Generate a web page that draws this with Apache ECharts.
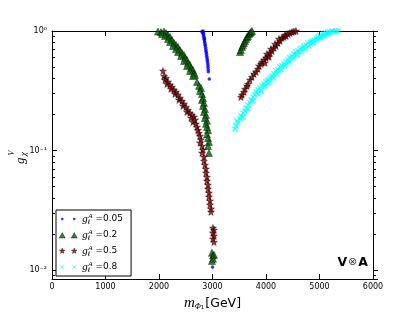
<!DOCTYPE html>
<html><head><meta charset="utf-8">
<script src="https://cdn.jsdelivr.net/npm/echarts@6/dist/echarts.min.js"></script>
<style>html,body{margin:0;padding:0;background:#fff}#c{width:415px;height:312px}</style>
</head><body><div id="c"></div>
<script>
// ---- axis settings ----
const xMin = 0, xMax = 6000, xInterval = 1000;
const yMin = 0.0084, yMax = 1;
const seriesNames = ['0.05', '0.2', '0.5', '0.8'];

// ---- data [m_Phi1 (GeV), g_chi^V] ----
const blueData = [[2804,0.99],[2822,1.0],[2813,0.975],[2822,0.955],[2832,0.96],[2832,0.93],[2836,0.905],[2841,0.88],[2850,0.86],
  [2846,0.855],[2850,0.83],[2855,0.805],[2860,0.78],[2864,0.755],[2869,0.73],[2874,0.705],[2878,0.68],[2883,0.66],
  [2888,0.64],[2892,0.615],[2897,0.595],[2902,0.575],[2906,0.555],[2911,0.535],[2916,0.515],[2916,0.495],[2920,0.475],
  [2922,0.455],[2940,0.397],[3000,0.0106]];

const greenData = [[1981,0.99],[2037,0.98],[2093,0.99],[2131,0.96],[2056,0.944],[2168,0.926],[2112,0.908],[2206,0.891],
  [2168,0.857],[2243,0.841],[2206,0.809],[2280,0.793],[2318,0.764],[2262,0.749],[2355,0.735],[2318,0.707],[2392,0.693],
  [2355,0.667],[2430,0.655],[2467,0.630],[2411,0.618],[2486,0.595],[2523,0.572],[2467,0.561],[2542,0.540],[2579,0.520],
  [2523,0.510],[2598,0.490],[2635,0.472],[2579,0.463],[2654,0.445],[2673,0.428],[2635,0.420],[2710,0.375],[2748,0.347],
  [2785,0.334],[2766,0.315],[2804,0.297],[2822,0.275],[2804,0.265],[2841,0.250],[2822,0.236],[2860,0.222],[2841,0.210],
  [2878,0.198],[2860,0.187],[2897,0.177],[2878,0.167],[2897,0.157],[2916,0.148],[2897,0.137],[2916,0.127],[2934,0.118],
  [2916,0.109],[2934,0.0954],
  [2990,0.0139],[3009,0.0132],[3009,0.0124],[2990,0.0119],[3028,0.0134],
  [3514,0.667],[3532,0.693],[3551,0.735],[3570,0.764],[3589,0.793],[3607,0.825],[3626,0.857],[3645,0.891],[3663,0.908],
  [3682,0.944],[3701,0.962],[3720,0.981],[3738,1.0]];

const redData = [[2075,0.463],[2093,0.420],[2131,0.404],[2112,0.389],[2168,0.375],[2149,0.360],[2206,0.354],[2243,0.340],
  [2224,0.327],[2280,0.321],[2318,0.309],[2299,0.297],[2355,0.292],[2392,0.275],[2374,0.265],[2430,0.260],[2467,0.245],
  [2449,0.236],[2505,0.231],[2542,0.218],[2523,0.210],[2579,0.206],[2617,0.198],[2598,0.187],[2654,0.191],[2673,0.180],
  [2635,0.173],[2691,0.167],[2710,0.157],[2729,0.148],[2748,0.140],[2766,0.132],[2785,0.123],[2766,0.116],[2804,0.109],
  [2822,0.101],[2804,0.0954],[2841,0.0882],[2841,0.0816],[2860,0.0756],[2878,0.0700],[2878,0.0648],[2897,0.0600],
  [2897,0.0556],[2916,0.0515],[2916,0.0477],[2934,0.0442],[2934,0.0409],[2953,0.0379],[2953,0.0351],[2972,0.0325],
  [2972,0.0306],
  [3009,0.0225],[3028,0.0216],[3009,0.0204],[3028,0.0193],[3009,0.0182],[3028,0.0171],
  [3532,0.280],[3551,0.292],[3589,0.309],[3607,0.327],[3645,0.347],[3663,0.360],[3701,0.389],[3738,0.412],[3776,0.437],
  [3813,0.454],[3850,0.481],[3869,0.510],[3907,0.530],[3925,0.550],[3963,0.572],[3981,0.540],[4000,0.595],[4037,0.618],
  [4018,0.642],[4075,0.655],[4056,0.606],[4112,0.680],[4093,0.707],[4149,0.721],[4187,0.749],[4168,0.778],[4224,0.793],
  [4262,0.825],[4243,0.857],[4299,0.874],[4336,0.891],[4374,0.908],[4355,0.926],[4411,0.944],[4448,0.962],[4486,0.981],
  [4523,0.99],[4560,1.0]];

const cyanData = [[3420,0.151],[3439,0.160],[3476,0.170],[3458,0.177],[3514,0.184],[3532,0.194],[3570,0.191],[3570,0.206],
  [3607,0.214],[3626,0.227],[3663,0.222],[3663,0.240],[3701,0.250],[3720,0.265],[3757,0.260],[3757,0.280],[3794,0.292],
  [3813,0.309],[3850,0.297],[3850,0.321],[3888,0.334],[3925,0.347],[3907,0.315],[3963,0.360],[4000,0.375],[3981,0.347],
  [4037,0.389],[4075,0.404],[4056,0.367],[4112,0.420],[4149,0.437],[4131,0.404],[4187,0.463],[4224,0.472],[4205,0.437],
  [4262,0.500],[4299,0.510],[4280,0.472],[4336,0.530],[4374,0.550],[4355,0.510],[4411,0.572],[4448,0.595],[4430,0.550],
  [4486,0.618],[4523,0.642],[4504,0.595],[4560,0.667],[4598,0.680],[4579,0.630],[4635,0.707],[4673,0.721],[4654,0.667],
  [4710,0.749],[4748,0.764],[4729,0.707],[4785,0.793],[4822,0.809],[4804,0.749],[4860,0.825],[4897,0.841],[4879,0.793],
  [4935,0.874],[4972,0.891],[4953,0.841],[5009,0.908],[5047,0.926],[5028,0.874],[5084,0.944],[5121,0.962],[5103,0.908],
  [5159,0.981],[5196,0.981],[5177,0.944],[5233,1.0],[5271,0.99],[5308,1.0],[5346,1.0]];

// ---- symbols ----
const starPath = 'path://M5,0L6.18,3.38L9.76,3.45L6.9,5.62L7.94,9.05L5,7L2.06,9.05L3.1,5.62L0.24,3.45L3.82,3.38Z';
const xPath = 'path://M0,1.5L1.5,0L5,3.5L8.5,0L10,1.5L6.5,5L10,8.5L8.5,10L5,6.5L1.5,10L0,8.5L3.5,5Z';
const BB = 'M0,0M18,6';
const legendIcons = [
  'path://' + BB + 'M1.7,3A1.3,1.3 0 1 1 4.3,3A1.3,1.3 0 1 1 1.7,3ZM13.7,3A1.3,1.3 0 1 1 16.3,3A1.3,1.3 0 1 1 13.7,3Z',
  'path://' + BB + 'M0,6L3,0.6L6,6ZM12,6L15,0.6L18,6Z',
  'path://' + BB + 'M3,0L3.705,2.029L5.853,2.073L4.141,3.371L4.763,5.427L3,4.2L1.237,5.427L1.859,3.371L0.147,2.073L2.295,2.029Z' +
    'M15,0L15.705,2.029L17.853,2.073L16.141,3.371L16.763,5.427L15,4.2L13.237,5.427L13.859,3.371L12.147,2.073L14.295,2.029Z',
  'path://' + BB + 'M1,1.5L1.5,1L3,2.5L4.5,1L5,1.5L3.5,3L5,4.5L4.5,5L3,3.5L1.5,5L1,4.5L2.5,3Z' +
    'M13,1.5L13.5,1L15,2.5L16.5,1L17,1.5L15.5,3L17,4.5L16.5,5L15,3.5L13.5,5L13,4.5L14.5,3Z'
];

const supMap = {'-':'\u207B','0':'\u2070','1':'\u00B9','2':'\u00B2','3':'\u00B3'};
function logLabel(v) {
  const l = Math.log10(v), e = Math.round(l);
  if (Math.abs(l - e) > 1e-6) return '';
  return '10' + String(e).split('').map(c => supMap[c]).join('');
}

const chart = echarts.init(document.getElementById('c'), null, {renderer: 'canvas'});
const axisLineStyle = {color: '#000', width: 1};
const tickStyle = {color: '#000', width: 1};
const minorTickCfg = {show: true, splitNumber: 9, length: 3, lineStyle: {color: '#000', width: 1}};

chart.setOption({
  animation: false,
  backgroundColor: '#fff',
  grid: {left: 52, right: 42, top: 31, bottom: 33, outerBoundsMode: 'none'},
  xAxis: [{
    type: 'value', min: xMin, max: xMax, interval: xInterval, position: 'bottom',
    axisLine: {show: true, onZero: false, lineStyle: axisLineStyle},
    axisTick: {show: true, inside: true, length: 5, lineStyle: tickStyle},
    axisLabel: {color: '#000', fontSize: 8, fontFamily: 'DejaVu Sans', margin: 4, formatter: v => String(v)},
    splitLine: {show: false},
    name: '{m|m}{p|\u03A6}{o|1}{t|[GeV]}',
    nameLocation: 'middle', nameGap: 15,
    nameTextStyle: {
      color: '#000',
      rich: {
        m: {fontFamily: 'Liberation Serif', fontStyle: 'italic', fontSize: 15, lineHeight: 15},
        p: {fontFamily: 'Liberation Serif', fontStyle: 'italic', fontSize: 8, lineHeight: 6, verticalAlign: 'bottom'},
        o: {fontFamily: 'DejaVu Sans', fontSize: 5.5, lineHeight: 3, verticalAlign: 'bottom', padding: [0, 1, 0, 0]},
        t: {fontFamily: 'DejaVu Sans', fontSize: 12.5, lineHeight: 15}
      }
    }
  }, {
    type: 'value', min: xMin, max: xMax, interval: xInterval, position: 'top',
    axisLine: {show: true, onZero: false, lineStyle: axisLineStyle},
    axisTick: {show: true, inside: true, length: 5, lineStyle: tickStyle},
    axisLabel: {show: false}, splitLine: {show: false}
  }],
  yAxis: [{
    type: 'log', logBase: 10, min: yMin, max: yMax, position: 'left',
    axisLine: {show: true, onZero: false, lineStyle: axisLineStyle},
    axisTick: {show: true, inside: true, length: 5, lineStyle: tickStyle},
    minorTick: minorTickCfg,
    axisLabel: {color: '#000', fontSize: 8, fontFamily: 'DejaVu Sans', margin: 5, formatter: logLabel},
    splitLine: {show: false}, minorSplitLine: {show: false}
  }, {
    type: 'log', logBase: 10, min: yMin, max: yMax, position: 'right',
    axisLine: {show: true, onZero: false, lineStyle: axisLineStyle},
    axisTick: {show: true, inside: false, length: 5, lineStyle: tickStyle},
    minorTick: minorTickCfg,
    axisLabel: {show: false}, splitLine: {show: false}, minorSplitLine: {show: false}
  }],
  legend: {
    orient: 'vertical', left: 56, top: 210, padding: [3, 8, 3, 3],
    itemGap: 4, itemWidth: 18, itemHeight: 6, itemTextGap: 6,
    borderColor: '#000', borderWidth: 1, borderRadius: 0, backgroundColor: '#fff',
    selectedMode: false,
    data: [
      {name: seriesNames[0], icon: legendIcons[0], itemStyle: {color: '#0000ff', borderWidth: 0}},
      {name: seriesNames[1], icon: legendIcons[1], itemStyle: {color: '#006400', borderColor: '#000', borderWidth: 0.5}},
      {name: seriesNames[2], icon: legendIcons[2], itemStyle: {color: '#8b0000', borderColor: '#000', borderWidth: 0.5}},
      {name: seriesNames[3], icon: legendIcons[3], itemStyle: {color: '#00ffff', borderWidth: 0}}
    ],
    formatter: n => '{g|g}{l|\u2113}{a|A}{t| =' + n + '}',
    textStyle: {
      color: '#000',
      rich: {
        g: {fontFamily: 'Liberation Serif', fontStyle: 'italic', fontSize: 11, lineHeight: 12},
        l: {fontFamily: 'DejaVu Sans', fontSize: 6, lineHeight: 6, verticalAlign: 'bottom', width: 0.1},
        a: {fontFamily: 'Liberation Serif', fontStyle: 'italic', fontSize: 7, lineHeight: 7, verticalAlign: 'top', padding: [0, 0, 0, 0.5]},
        t: {fontFamily: 'DejaVu Sans', fontSize: 9, lineHeight: 12}
      }
    }
  },
  graphic: [{
    type: 'group', x: 20.5, y: 164, rotation: Math.PI / 2, silent: true,
    children: [
      {type: 'text', x: 0, y: 0, style: {text: 'g', fontFamily: 'Liberation Serif', fontStyle: 'italic', fontSize: 13, fill: '#000', align: 'left', verticalAlign: 'middle'}},
      {type: 'text', x: 8, y: 3, style: {text: '\u03C7', fontFamily: 'Liberation Serif', fontStyle: 'italic', fontSize: 9, fill: '#000', align: 'left', verticalAlign: 'middle'}},
      {type: 'text', x: 8.5, y: -9, style: {text: 'V', fontFamily: 'Liberation Serif', fontStyle: 'italic', fontSize: 8, fill: '#000', align: 'left', verticalAlign: 'middle'}}
    ]
  }, {
    type: 'text', right: 47, top: 256, silent: true,
    style: {
      text: '{b|V}{o|\u2297}{b|A}', fill: '#000',
      rich: {
        b: {fontFamily: 'DejaVu Sans', fontWeight: 'bold', fontSize: 12.5, lineHeight: 14},
        o: {fontFamily: 'DejaVu Sans', fontSize: 11, lineHeight: 14, fill: '#444', padding: [0, 1, 0, 1]}
      }
    }
  }],
  series: [
    {name: seriesNames[0], type: 'scatter', data: blueData, symbol: 'circle', symbolSize: 3.5,
     itemStyle: {color: '#0000ff'}, emphasis: {disabled: true}},
    {name: seriesNames[1], type: 'scatter', data: greenData, symbol: 'triangle', symbolSize: 7,
     itemStyle: {color: '#006400', borderColor: '#000', borderWidth: 0.5}, emphasis: {disabled: true}},
    {name: seriesNames[2], type: 'scatter', data: redData, symbol: starPath, symbolSize: 7,
     itemStyle: {color: '#8b0000', borderColor: '#000', borderWidth: 0.5}, emphasis: {disabled: true}},
    {name: seriesNames[3], type: 'scatter', data: cyanData, symbol: xPath, symbolSize: 6,
     itemStyle: {color: '#00ffff'}, emphasis: {disabled: true}}
  ]
});
</script>
</body></html>
